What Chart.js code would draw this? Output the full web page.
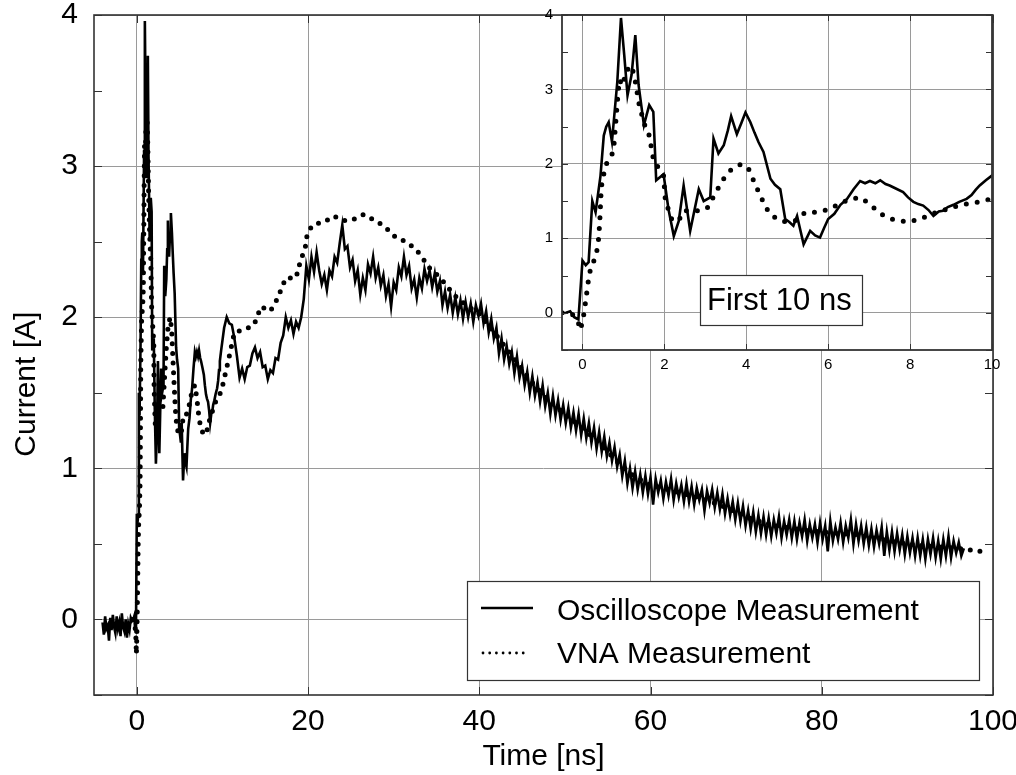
<!DOCTYPE html>
<html><head><meta charset="utf-8">
<script src="https://cdn.jsdelivr.net/npm/chart.js@4.4.1/dist/chart.umd.min.js"></script>
<style>
html,body{margin:0;padding:0;background:#fff;}
#wrap{position:relative;width:1016px;height:775px;overflow:hidden;}
#main{position:absolute;left:0;top:0;}
#inset{position:absolute;left:530px;top:0;}
</style></head><body>
<div id="wrap"><canvas id="main" width="1016" height="775"></canvas><canvas id="inset" width="486" height="390"></canvas></div>
<script>
// ---------------- data ----------------
const seriesNames = ['Oscilloscope Measurement', 'VNA Measurement'];
const xTitle = 'Time [ns]';
const yTitle = 'Current [A]';
const insetNote = 'First 10 ns';

const mainXTicks = [0, 20, 40, 60, 80, 100];
const mainYTicks = [-0.5, 0, 0.5, 1, 1.5, 2, 2.5, 3, 3.5, 4];
const insetXTicks = [0, 2, 4, 6, 8, 10];
const insetYTicks = [-0.5, 0, 0.5, 1, 1.5, 2, 2.5, 3, 3.5, 4];

// Oscilloscope, first part (ns, A)
const oscEarlyTime = [
  -4.0,-3.85,-3.7,-3.55,-3.4,-3.25,-3.1,-2.95,-2.8,-2.65,-2.5,-2.35,-2.2,-2.05,
  -1.9,-1.75,-1.6,-1.45,-1.3,-1.15,-1.0,-0.85,-0.7,-0.55,-0.4,-0.3,-0.2,-0.1,
  0.0,0.08,0.15,0.24,0.32,0.44,0.52,0.58,0.64,0.72,
  0.85,0.94,1.02,1.10,1.20,1.29,1.37,1.50,1.63,1.73,
  1.80,1.98,2.10,2.23,2.35,2.47,2.63,2.84,2.96,3.12,
  3.20,3.32,3.45,3.55,3.63,3.77,3.88,3.98,4.10,4.20,
  4.30,4.42,4.59,4.70,4.83,4.95,5.05,5.15,5.24,5.40,
  5.56,5.68,5.80,5.90,6.00,6.15,6.30,6.46,6.62,6.78,
  6.90,7.02,7.15,7.27,7.40,7.50,7.65,7.83,7.95,8.08,
  8.20,8.32,8.45,8.57,8.70,8.80,8.92,9.06,9.20,9.38,
  9.50,9.60,9.70,9.85,9.99
];
const oscEarlyCurrent = [
  -0.02,-0.10,0.02,-0.06,-0.04,-0.14,0.01,-0.07,0.03,-0.05,-0.09,0.02,-0.06,-0.02,
  -0.11,0.04,-0.05,-0.08,0.00,-0.12,-0.03,-0.07,0.01,-0.01,0.00,0.02,-0.06,-0.09,
  0.70,0.64,0.68,1.50,1.35,1.84,2.38,2.50,2.56,2.30,
  3.10,3.96,3.46,2.92,3.20,3.73,3.06,2.52,2.79,2.70,
  1.78,1.86,1.39,1.03,1.23,1.71,1.10,1.66,1.50,1.55,
  2.34,2.14,2.25,2.45,2.64,2.40,2.55,2.69,2.56,2.42,
  2.29,2.16,1.80,1.72,1.66,1.26,1.22,1.17,1.30,0.92,
  1.10,1.04,1.01,1.14,1.26,1.33,1.45,1.53,1.66,1.77,
  1.74,1.77,1.74,1.78,1.73,1.71,1.67,1.62,1.55,1.49,
  1.46,1.44,1.38,1.30,1.36,1.37,1.42,1.45,1.49,1.53,
  1.58,1.65,1.71,1.78,1.84
];
// Oscilloscope, 10.2 ns onwards, sampled every 0.3 ns (one row = 3 ns)
const oscLateStart = 10.2;
const oscLateStep = 0.3;
const oscLateCurrent = [
  1.93,2.00,1.96,1.95,1.86,1.74,1.60,1.66,1.59,1.67,
  1.68,1.76,1.80,1.73,1.77,1.67,1.68,1.59,1.65,1.63,
  1.73,1.72,1.83,1.88,2.00,1.93,1.98,1.89,1.97,1.93,
  2.00,2.12,2.34,2.25,2.40,2.30,2.43,2.31,2.22,2.28,
  2.18,2.31,2.27,2.40,2.36,2.49,2.61,2.45,2.47,2.33,
  2.38,2.24,2.31,2.15,2.26,2.18,2.35,2.29,2.40,2.26,
  2.33,2.21,2.28,2.14,2.22,2.07,2.23,2.18,2.33,2.27,
  2.40,2.28,2.34,2.19,2.25,2.13,2.26,2.19,2.32,2.24,
  2.31,2.20,2.29,2.17,2.24,2.08,2.17,2.06,2.15,2.03,
  2.13,2.02,2.11,1.99,2.10,2.00,2.09,1.97,2.08,2.01,
  2.09,1.96,2.04,1.90,1.99,1.86,1.93,1.76,1.86,1.72,
  1.81,1.69,1.77,1.63,1.74,1.60,1.68,1.55,1.64,1.50,
  1.61,1.48,1.57,1.44,1.55,1.41,1.50,1.36,1.48,1.35,
  1.45,1.32,1.42,1.30,1.40,1.27,1.37,1.25,1.36,1.22,
  1.33,1.20,1.30,1.17,1.27,1.13,1.24,1.11,1.21,1.08,
  1.17,1.05,1.14,1.01,1.09,0.95,1.05,0.90,1.00,0.87,
  0.98,0.86,0.96,0.84,0.95,0.83,0.94,0.76,0.93,0.84,
  0.92,0.80,0.91,0.82,0.93,0.79,0.90,0.81,0.89,0.78,
  0.90,0.78,0.88,0.76,0.87,0.79,0.86,0.72,0.85,0.77,
  0.86,0.74,0.84,0.73,0.83,0.70,0.80,0.69,0.78,0.66,
  0.77,0.65,0.75,0.62,0.72,0.60,0.71,0.58,0.69,0.57,
  0.68,0.56,0.67,0.55,0.66,0.57,0.68,0.54,0.65,0.56,
  0.66,0.54,0.65,0.53,0.64,0.55,0.66,0.52,0.63,0.54,
  0.63,0.51,0.64,0.53,0.62,0.45,0.65,0.52,0.61,0.53,
  0.64,0.51,0.62,0.54,0.66,0.50,0.63,0.52,0.62,0.50,
  0.61,0.49,0.60,0.48,0.59,0.50,0.61,0.42,0.58,0.46,
  0.58,0.45,0.57,0.46,0.56,0.43,0.55,0.44,0.54,0.42,
  0.54,0.42,0.53,0.40,0.53,0.43,0.54,0.41,0.52,0.40,
  0.53,0.42,0.55,0.41,0.52,0.44,0.51,0.42,0.47
];
// VNA (ns, A)
const vnaTime = [
  -0.5,-0.25,-0.12,-0.05,-0.02,0.04,0.10,0.16,0.22,0.30,0.38,0.42,0.46,0.56,0.70,0.76,0.85,0.90,0.98,1.07,
  1.20,1.28,1.38,1.50,1.63,1.73,1.90,1.98,2.02,2.10,2.19,2.35,2.47,2.80,3.04,3.32,3.45,3.64,3.88,4.07,
  4.19,4.32,4.44,4.57,4.81,5.00,5.20,5.44,5.74,6.02,6.26,6.50,6.78,7.02,7.23,7.43,7.68,7.97,8.25,8.54,
  8.78,9.06,9.34,9.58,9.87,
  10.6,11.4,12.7,13.7,14.5,15.6,16.4,17.4,18.6,18.9,19.3,19.7,19.9,20.5,21.1,21.9,23.0,24.2,25.4,26.5,
  27.5,28.7,29.7,30.2,31.4,32.6,33.4,34.1,34.9,35.9,37,38,40,42,44,46,48,50,52,54,
  56,58,60,62,64,66,68,70,72,74,76,78,80,82,84,86,88,90,92,94,96,98.7
];
const vnaCurrent = [
  0.00,-0.02,-0.10,-0.23,-0.16,0.00,0.25,0.50,0.64,0.72,0.90,1.20,1.69,1.98,2.10,2.19,2.82,3.13,3.05,3.25,
  3.32,3.14,2.81,2.55,2.38,2.07,1.90,1.84,1.54,1.38,1.24,1.24,1.37,1.37,1.40,1.68,1.80,1.93,2.00,1.92,
  1.76,1.60,1.46,1.33,1.24,1.22,1.24,1.35,1.35,1.39,1.46,1.52,1.55,1.46,1.35,1.28,1.24,1.22,1.26,1.33,
  1.37,1.42,1.46,1.48,1.51,
  1.69,1.90,1.92,1.95,2.07,2.04,2.12,2.26,2.26,2.33,2.40,2.47,2.55,2.61,2.62,2.63,2.67,2.64,2.65,2.68,
  2.65,2.61,2.56,2.53,2.50,2.45,2.39,2.33,2.29,2.23,2.15,2.10,2.02,1.88,1.73,1.58,1.45,1.36,1.27,1.17,
  1.05,0.95,0.89,0.86,0.83,0.80,0.76,0.71,0.66,0.63,0.61,0.59,0.58,0.57,0.56,0.54,0.52,0.50,0.49,0.48,0.47,0.45
];

// ---------------- build ----------------
const oscLateTime = oscLateCurrent.map((_, i) => +(oscLateStart + i * oscLateStep).toFixed(2));
const oscTime = oscEarlyTime.concat(oscLateTime);
const oscCurrent = oscEarlyCurrent.concat(oscLateCurrent);
const oscData = oscTime.map((t, i) => ({x: t, y: oscCurrent[i]}));
const vnaData = vnaTime.map((t, i) => ({x: t, y: vnaCurrent[i]}));

const FONT = '"Liberation Sans", Arial, Helvetica, sans-serif';
const GRID = '#9a9a9a';
const FRAME = '#333';
const isInt = v => Math.abs(v - Math.round(v)) < 1e-6;
const setTicks = arr => scale => { scale.ticks = arr.map(v => ({value: v})); };

function frameAndTicks(chart, len, lw) {
  const {ctx, chartArea: a, scales: {x, y}} = chart;
  ctx.save();
  ctx.strokeStyle = FRAME;
  ctx.lineWidth = 1;
  ctx.beginPath();
  y.ticks.forEach(t => {
    const py = Math.round(y.getPixelForValue(t.value)) + 0.5;
    ctx.moveTo(a.left, py); ctx.lineTo(a.left + len, py);
    ctx.moveTo(a.right - len, py); ctx.lineTo(a.right, py);
  });
  x.ticks.forEach(t => {
    const px = Math.round(x.getPixelForValue(t.value)) + 0.5;
    ctx.moveTo(px, a.bottom); ctx.lineTo(px, a.bottom - len);
    ctx.moveTo(px, a.top); ctx.lineTo(px, a.top + len);
  });
  ctx.stroke();
  ctx.lineWidth = lw;
  ctx.strokeRect(a.left, a.top, a.right - a.left, a.bottom - a.top);
  ctx.restore();
}

const mainDecor = {
  id: 'mainDecor',
  afterDraw(chart) {
    frameAndTicks(chart, 8, 1.6);
    const ctx = chart.ctx;
    ctx.save();
    ctx.fillStyle = '#fff';
    ctx.fillRect(467, 581, 512, 99);
    ctx.strokeStyle = FRAME; ctx.lineWidth = 1.2;
    ctx.strokeRect(467.5, 581.5, 512, 99);
    ctx.strokeStyle = '#000'; ctx.lineWidth = 2.5;
    ctx.beginPath(); ctx.moveTo(481, 608); ctx.lineTo(533, 608); ctx.stroke();
    ctx.fillStyle = '#000';
    for (let k = 0; k < 7; k++) {
      ctx.beginPath(); ctx.arc(483 + k * 6.7, 653, 1.4, 0, Math.PI * 2); ctx.fill();
    }
    ctx.font = '30px ' + FONT;
    ctx.textBaseline = 'middle';
    ctx.textAlign = 'left';
    ctx.fillText(seriesNames[0], 557, 612);
    ctx.fillText(seriesNames[1], 557, 655);
    ctx.restore();
  }
};

const insetDecor = {
  id: 'insetDecor',
  beforeDraw(chart) {
    const {ctx, chartArea: a} = chart;
    ctx.save(); ctx.fillStyle = '#fff';
    ctx.fillRect(a.left, a.top, a.right - a.left, a.bottom - a.top);
    ctx.restore();
  },
  afterDraw(chart) {
    frameAndTicks(chart, 6, 1.8);
    const ctx = chart.ctx;
    ctx.save();
    ctx.fillStyle = '#fff';
    ctx.fillRect(170, 275, 162, 50);
    ctx.strokeStyle = FRAME; ctx.lineWidth = 1.2;
    ctx.strokeRect(170.5, 275.5, 162, 50);
    ctx.fillStyle = '#000';
    ctx.font = '31px ' + FONT;
    ctx.textBaseline = 'middle';
    ctx.fillText(insetNote, 177, 301);
    ctx.restore();
  }
};

const tickFont = size => ({family: FONT, size: size});

new Chart(document.getElementById('main'), {
  type: 'line',
  data: {datasets: [
    {label: seriesNames[0], data: oscData, borderColor: '#000', borderWidth: 2.6, pointRadius: 0, tension: 0, fill: false, order: 0},
    {label: seriesNames[1], data: vnaData, borderColor: '#000', borderWidth: 5, borderDash: [0, 9.7], borderCapStyle: 'round', pointRadius: 0, tension: 0, fill: false, order: 1}
  ]},
  options: {
    responsive: false, animation: false, devicePixelRatio: 1,
    layout: {padding: {left: 0, top: 15, right: 23, bottom: 0}},
    plugins: {legend: {display: false}, tooltip: {enabled: false}},
    scales: {
      x: {
        type: 'linear', min: -5, max: 100,
        afterBuildTicks: setTicks(mainXTicks),
        ticks: {callback: v => String(v), font: tickFont(30), color: '#000', padding: 9, maxRotation: 0, autoSkip: false},
        grid: {color: GRID, lineWidth: 1, drawTicks: false},
        border: {display: false},
        title: {display: true, text: xTitle, font: {family: FONT, size: 30, lineHeight: 1}, color: '#000', padding: {top: 0, bottom: 3}},
        afterFit(s) { s.height = 80; s.paddingLeft = 0; s.paddingRight = 0; }
      },
      y: {
        type: 'linear', min: -0.5, max: 4,
        afterBuildTicks: setTicks(mainYTicks),
        ticks: {callback: v => isInt(v) ? String(Math.round(v)) : '', font: tickFont(30), color: '#000', padding: 16, autoSkip: false},
        grid: {color: c => (c.tick && isInt(c.tick.value)) ? GRID : 'rgba(0,0,0,0)', lineWidth: 1, drawTicks: false},
        border: {display: false},
        title: {display: true, text: yTitle + '       ', font: tickFont(30), color: '#000', padding: {top: 9, bottom: 0}},
        afterFit(s) { s.width = 94; s.paddingTop = 0; s.paddingBottom = 0; }
      }
    }
  },
  plugins: [mainDecor]
});

new Chart(document.getElementById('inset'), {
  type: 'line',
  data: {datasets: [
    {label: seriesNames[0], data: oscData, borderColor: '#000', borderWidth: 2.6, pointRadius: 0, tension: 0, fill: false, order: 0},
    {label: seriesNames[1], data: vnaData, borderColor: '#000', borderWidth: 5, borderDash: [0, 11], borderCapStyle: 'round', pointRadius: 0, tension: 0, fill: false, order: 1}
  ]},
  options: {
    responsive: false, animation: false, devicePixelRatio: 1,
    layout: {padding: {left: 0, top: 15, right: 24, bottom: 0}},
    plugins: {legend: {display: false}, tooltip: {enabled: false}},
    scales: {
      x: {
        type: 'linear', min: -0.5, max: 10,
        afterBuildTicks: setTicks(insetXTicks),
        ticks: {callback: v => String(v), font: tickFont(15), color: '#000', padding: 6, maxRotation: 0, autoSkip: false},
        grid: {color: c => (c.tick && c.tick.value < 10) ? GRID : 'rgba(0,0,0,0)', lineWidth: 1, drawTicks: false},
        border: {display: false},
        afterFit(s) { s.height = 40; s.paddingLeft = 0; s.paddingRight = 0; }
      },
      y: {
        type: 'linear', min: -0.5, max: 4,
        afterBuildTicks: setTicks(insetYTicks),
        ticks: {callback: v => isInt(v) ? String(Math.round(v)) : '', font: tickFont(15), color: '#000', padding: 9, autoSkip: false},
        grid: {color: c => (c.tick && isInt(c.tick.value)) ? GRID : 'rgba(0,0,0,0)', lineWidth: 1, drawTicks: false},
        border: {display: false},
        afterFit(s) { s.width = 32; s.paddingTop = 0; s.paddingBottom = 0; }
      }
    }
  },
  plugins: [insetDecor]
});
</script>
</body></html>
